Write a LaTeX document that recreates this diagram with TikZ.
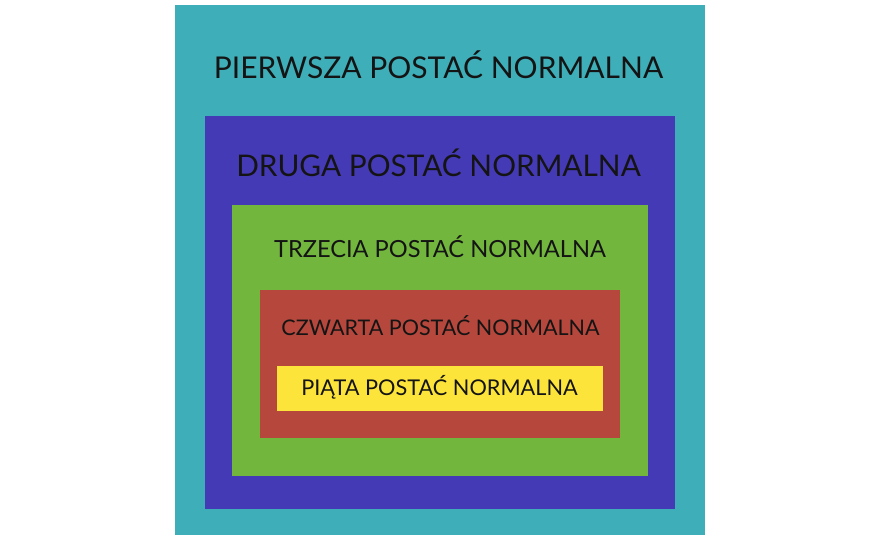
\documentclass[tikz,border=0pt]{standalone}
\usepackage{fontspec}
\setmainfont{Lato}
\usepackage{tikz}
\definecolor{tealbg}{HTML}{3EAEB9}
\definecolor{bluebg}{HTML}{453AB5}
\definecolor{greenbg}{HTML}{72B63E}
\definecolor{redbg}{HTML}{B5473C}
\definecolor{yellowbg}{HTML}{FDE43A}
\definecolor{txt}{HTML}{141414}

\begin{document}
\begin{tikzpicture}[x=1pt,y=-1pt,
		lvl/.style={anchor=base,text=txt,inner sep=0pt}]
		\useasboundingbox (0,0) rectangle (880,540);
		\fill[tealbg] (175,5) rectangle (705,534.5);
		\fill[bluebg] (205,116) rectangle (675,509);
		\fill[greenbg] (232,204.5) rectangle (648,476);
		\fill[redbg] (260,290) rectangle (620,438);
		\fill[yellowbg] (277,366) rectangle (603,410.5);

		\node[lvl,font=\fontsize{30}{34}\selectfont] at (438.5,79) (first) {PIERWSZA POSTAĆ NORMALNA};
		\node[lvl,font=\fontsize{29.8}{34}\selectfont] at (438.5,177) (second) {DRUGA POSTAĆ NORMALNA};
		\node[lvl,font=\fontsize{23.6}{27}\selectfont] at (440,257) (third) {TRZECIA POSTAĆ NORMALNA};
		\node[lvl,font=\fontsize{21.5}{25}\selectfont] at (440.5,335) (fourth) {CZWARTA POSTAĆ NORMALNA};
		\node[lvl,font=\fontsize{21.7}{25}\selectfont] at (439.5,395) (fifth) {PIĄTA POSTAĆ NORMALNA};
	\end{tikzpicture}
\end{document}
